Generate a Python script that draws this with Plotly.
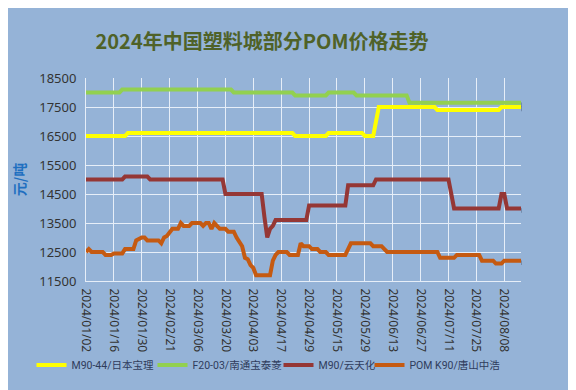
import plotly.graph_objects as go

# ---- data ----
tick_labels = ["2024/01/02", "2024/01/16", "2024/01/30", "2024/02/21", "2024/03/06",
               "2024/03/20", "2024/04/03", "2024/04/17", "2024/04/29", "2024/05/15",
               "2024/05/29", "2024/06/13", "2024/06/27", "2024/07/11", "2024/07/25",
               "2024/08/08"]

series_names = ["M90-44/日本宝理", "F20-03/南通宝泰菱", "M90/云天化", "POM K90/唐山中浩"]

m90_44_baoli = [
    16500, 16500, 16500, 16500, 16500, 16500, 16500, 16500, 16500, 16500,
    16500, 16500, 16500, 16500, 16500, 16600, 16600, 16600, 16600, 16600,
    16600, 16600, 16600, 16600, 16600, 16600, 16600, 16600, 16600, 16600,
    16600, 16600, 16600, 16600, 16600, 16600, 16600, 16600, 16600, 16600,
    16600, 16600, 16600, 16600, 16600, 16600, 16600, 16600, 16600, 16600,
    16600, 16600, 16600, 16600, 16600, 16600, 16600, 16600, 16600, 16600,
    16600, 16600, 16600, 16600, 16600, 16600, 16600, 16600, 16600, 16600,
    16600, 16600, 16600, 16600, 16600, 16500, 16500, 16500, 16500, 16500,
    16500, 16500, 16500, 16500, 16500, 16500, 16500, 16600, 16600, 16600,
    16600, 16600, 16600, 16600, 16600, 16600, 16600, 16600, 16600, 16600,
    16500, 16500, 16500, 16500, 17000, 17500, 17500, 17500, 17500, 17500,
    17500, 17500, 17500, 17500, 17500, 17500, 17500, 17500, 17500, 17500,
    17500, 17500, 17500, 17500, 17500, 17500, 17400, 17400, 17400, 17400,
    17400, 17400, 17400, 17400, 17400, 17400, 17400, 17400, 17400, 17400,
    17400, 17400, 17400, 17400, 17400, 17400, 17400, 17400, 17400, 17500,
    17500, 17500, 17500, 17500, 17500, 17500, 17500,
]

f20_03_nantong = [
    18000, 18000, 18000, 18000, 18000, 18000, 18000, 18000, 18000, 18000,
    18000, 18000, 18000, 18100, 18100, 18100, 18100, 18100, 18100, 18100,
    18100, 18100, 18100, 18100, 18100, 18100, 18100, 18100, 18100, 18100,
    18100, 18100, 18100, 18100, 18100, 18100, 18100, 18100, 18100, 18100,
    18100, 18100, 18100, 18100, 18100, 18100, 18100, 18100, 18100, 18100,
    18100, 18100, 18100, 18000, 18000, 18000, 18000, 18000, 18000, 18000,
    18000, 18000, 18000, 18000, 18000, 18000, 18000, 18000, 18000, 18000,
    18000, 18000, 18000, 18000, 18000, 17900, 17900, 17900, 17900, 17900,
    17900, 17900, 17900, 17900, 17900, 17900, 17900, 18000, 18000, 18000,
    18000, 18000, 18000, 18000, 18000, 18000, 18000, 17900, 17900, 17900,
    17900, 17900, 17900, 17900, 17900, 17900, 17900, 17900, 17900, 17900,
    17900, 17900, 17900, 17900, 17900, 17900, 17650, 17650, 17650, 17650,
    17650, 17650, 17650, 17650, 17650, 17650, 17650, 17650, 17650, 17650,
    17650, 17650, 17650, 17650, 17650, 17650, 17650, 17650, 17650, 17650,
    17650, 17650, 17650, 17650, 17650, 17650, 17650, 17650, 17650, 17650,
    17650, 17650, 17650, 17650, 17650, 17650, 17650,
]

m90_yuntianhua = [
    15000, 15000, 15000, 15000, 15000, 15000, 15000, 15000, 15000, 15000,
    15000, 15000, 15000, 15000, 15100, 15100, 15100, 15100, 15100, 15100,
    15100, 15100, 15100, 15000, 15000, 15000, 15000, 15000, 15000, 15000,
    15000, 15000, 15000, 15000, 15000, 15000, 15000, 15000, 15000, 15000,
    15000, 15000, 15000, 15000, 15000, 15000, 15000, 15000, 15000, 15000,
    14500, 14500, 14500, 14500, 14500, 14500, 14500, 14500, 14500, 14500,
    14500, 14500, 14500, 14500, 13700, 13000, 13300, 13400, 13600, 13600,
    13600, 13600, 13600, 13600, 13600, 13600, 13600, 13600, 13600, 13600,
    14100, 14100, 14100, 14100, 14100, 14100, 14100, 14100, 14100, 14100,
    14100, 14100, 14100, 14100, 14800, 14800, 14800, 14800, 14800, 14800,
    14800, 14800, 14800, 14800, 15000, 15000, 15000, 15000, 15000, 15000,
    15000, 15000, 15000, 15000, 15000, 15000, 15000, 15000, 15000, 15000,
    15000, 15000, 15000, 15000, 15000, 15000, 15000, 15000, 15000, 15000,
    15000, 14500, 14000, 14000, 14000, 14000, 14000, 14000, 14000, 14000,
    14000, 14000, 14000, 14000, 14000, 14000, 14000, 14000, 14000, 14500,
    14500, 14000, 14000, 14000, 14000, 14000, 14000,
]

pom_k90_zhonghao = [
    12500, 12600, 12500, 12500, 12500, 12500, 12500, 12400, 12400, 12400,
    12450, 12450, 12450, 12450, 12600, 12600, 12600, 12600, 12900, 12950,
    13000, 13000, 12900, 12900, 12900, 12900, 12900, 12800, 13000, 13050,
    13200, 13300, 13300, 13300, 13500, 13400, 13400, 13400, 13500, 13500,
    13500, 13500, 13400, 13500, 13500, 13300, 13500, 13400, 13300, 13300,
    13300, 13200, 13200, 13200, 13000, 12850, 12700, 12300, 12250, 12050,
    11950, 11700, 11700, 11700, 11700, 11700, 11700, 12200, 12400, 12500,
    12500, 12500, 12500, 12400, 12400, 12400, 12400, 12800, 12700, 12700,
    12700, 12600, 12600, 12600, 12500, 12500, 12500, 12400, 12400, 12400,
    12400, 12400, 12400, 12400, 12600, 12800, 12800, 12800, 12800, 12800,
    12800, 12800, 12800, 12700, 12700, 12700, 12700, 12600, 12500, 12500,
    12500, 12500, 12500, 12500, 12500, 12500, 12500, 12500, 12500, 12500,
    12500, 12500, 12500, 12500, 12500, 12500, 12500, 12300, 12300, 12300,
    12300, 12300, 12300, 12400, 12400, 12400, 12400, 12400, 12400, 12400,
    12400, 12400, 12200, 12200, 12200, 12200, 12200, 12100, 12100, 12100,
    12200, 12200, 12200, 12200, 12200, 12200, 12200,
]

series_values = [m90_44_baoli, f20_03_nantong, m90_yuntianhua, pom_k90_zhonghao]
series_colors = ["#FFFF00", "#92D050", "#953735", "#C55A11"]
legend_widths = [76, 81, 46, 86]

# category positions (one per trading day), labelled every 10th day
x_pos = list(range(len(m90_44_baoli)))
tick_pos = x_pos[::10]
x_range = [x_pos[0], x_pos[-1]]
y_range = [11500, 18500]

BG = "#95B3D7"
GRID = "#E6EEF8"
FONT = "Roboto, Noto Sans CJK SC, sans-serif"
SHADOW = "rgba(45,55,80,0.32)"

# inner area: x 78..514 (436 px), y 70..275 (205 px)
W_IN, H_IN = 436.0, 205.0
SX, SY = 1.0, 2.0  # drop-shadow offset in px

fig = go.Figure()
# soft drop shadows (same data, drawn on an offset, hidden subplot)
for vals in series_values:
    fig.add_trace(go.Scatter(
        x=x_pos, y=vals, mode="lines", xaxis="x", yaxis="y",
        line=dict(color=SHADOW, width=4.5), showlegend=False, hoverinfo="skip",
    ))
# main lines
for name, vals, col, lw in zip(series_names, series_values, series_colors, legend_widths):
    fig.add_trace(go.Scatter(
        x=x_pos, y=vals, mode="lines", name=name, xaxis="x2", yaxis="y2",
        line=dict(color=col, width=4), legendwidth=lw,
        hoverinfo="x+y+name",
    ))

fig.update_layout(
    width=576, height=390,
    paper_bgcolor=BG, plot_bgcolor=BG,
    margin=dict(l=78, r=62, t=70, b=115, autoexpand=False),
    font=dict(family=FONT, color="#333333", size=12),
    title=dict(
        text="<b>2024年中国塑料城部分POM价格走势</b>",
        font=dict(family="Noto Sans CJK SC", size=20, color="#4F6228"),
        x=254 / 576, xanchor="center", xref="container",
        y=1 - 34 / 390, yanchor="middle", yref="container",
    ),
    showlegend=True,
    legend=dict(
        orientation="h", x=-0.125, xanchor="left", xref="paper",
        y=-0.40, yanchor="middle", yref="paper",
        font=dict(family=FONT, size=10.5, color="#2F3C5C"),
        bgcolor="rgba(0,0,0,0)", itemwidth=30, tracegroupgap=0,
    ),
    # hidden shadow axes
    xaxis=dict(domain=[SX / W_IN, 1], range=x_range, visible=False,
               showgrid=False, zeroline=False, fixedrange=True),
    yaxis=dict(domain=[0, 1 - SY / H_IN], range=y_range, visible=False,
               showgrid=False, zeroline=False, fixedrange=True, anchor="x"),
    # visible main axes
    xaxis2=dict(
        domain=[0, 1 - SX / W_IN], anchor="y2", range=x_range,
        tickmode="array", tickvals=tick_pos, ticktext=tick_labels,
        tickangle=90, ticks="", ticklabelstandoff=4,
        showgrid=True, gridcolor=GRID, gridwidth=1,
        showline=True, linecolor=GRID, linewidth=1, zeroline=False,
        tickfont=dict(family="Noto Sans, sans-serif", size=12, color="#333333"),
        automargin=False,
    ),
    yaxis2=dict(
        domain=[SY / H_IN, 1], anchor="x2", range=y_range,
        tick0=11500, dtick=1000, tickformat="d",
        showgrid=True, gridcolor=GRID, gridwidth=1,
        showline=True, linecolor=GRID, linewidth=1, zeroline=False,
        ticks="", ticklabelstandoff=6,
        tickfont=dict(family="Noto Sans, sans-serif", size=13, color="#333333"),
        automargin=False,
        title=dict(text="<b>元/吨</b>", standoff=10,
                   font=dict(family="Noto Sans CJK SC", size=14, color="#1F6FC0")),
    ),
)

fig.write_html("out.html", config={"displayModeBar": False})
